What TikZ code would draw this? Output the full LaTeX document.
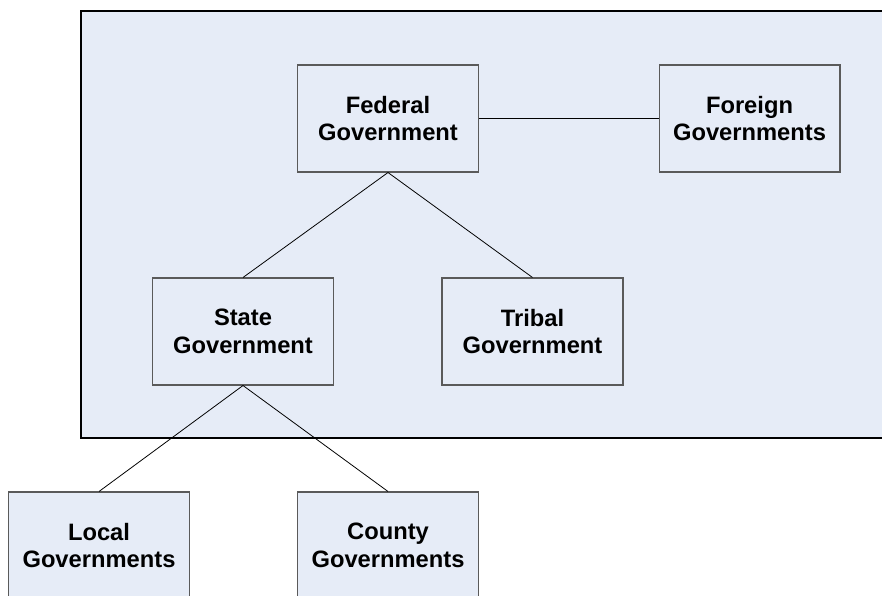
\documentclass[tikz,border=0pt]{standalone}
\usepackage{fontspec}
\setmainfont{Liberation Sans}
\definecolor{govfill}{RGB}{230,236,247}
\definecolor{govedge}{RGB}{90,90,90}
\begin{document}
\begin{tikzpicture}[x=0.02cm,y=-0.02cm,
    gov/.style={draw=govedge,line width=0.6pt,fill=govfill,minimum width=3.62cm,minimum height=2.14cm,
        align=center,inner sep=0pt,font=\fontsize{13.5}{15.9}\selectfont\bfseries},
    link/.style={line width=0.45pt,black}]
    \clip (0,0) rectangle (882,595);
    \draw[line width=0.8pt,fill=govfill] (81,11) rectangle (900,438);
    \node[gov] (federal) at (388,118.5) {Federal\\Government};
    \node[gov] (foreign) at (749.5,118.5) {Foreign\\Governments};
    \node[gov] (state) at (243,331.5) {State\\Government};
    \node[gov] (tribal) at (532.5,331.5) {Tribal\\Government};
    \node[gov] (local) at (99,545.5) {Local\\Governments};
    \node[gov] (county) at (388,545.5) {County\\Governments};
    \draw[link] (federal.east) -- (foreign.west);
    \foreach \a/\b in {federal/state,federal/tribal,state/local,state/county} {
        \draw[link] (\a.south) -- (\b.north);
    }
\end{tikzpicture}
\end{document}
